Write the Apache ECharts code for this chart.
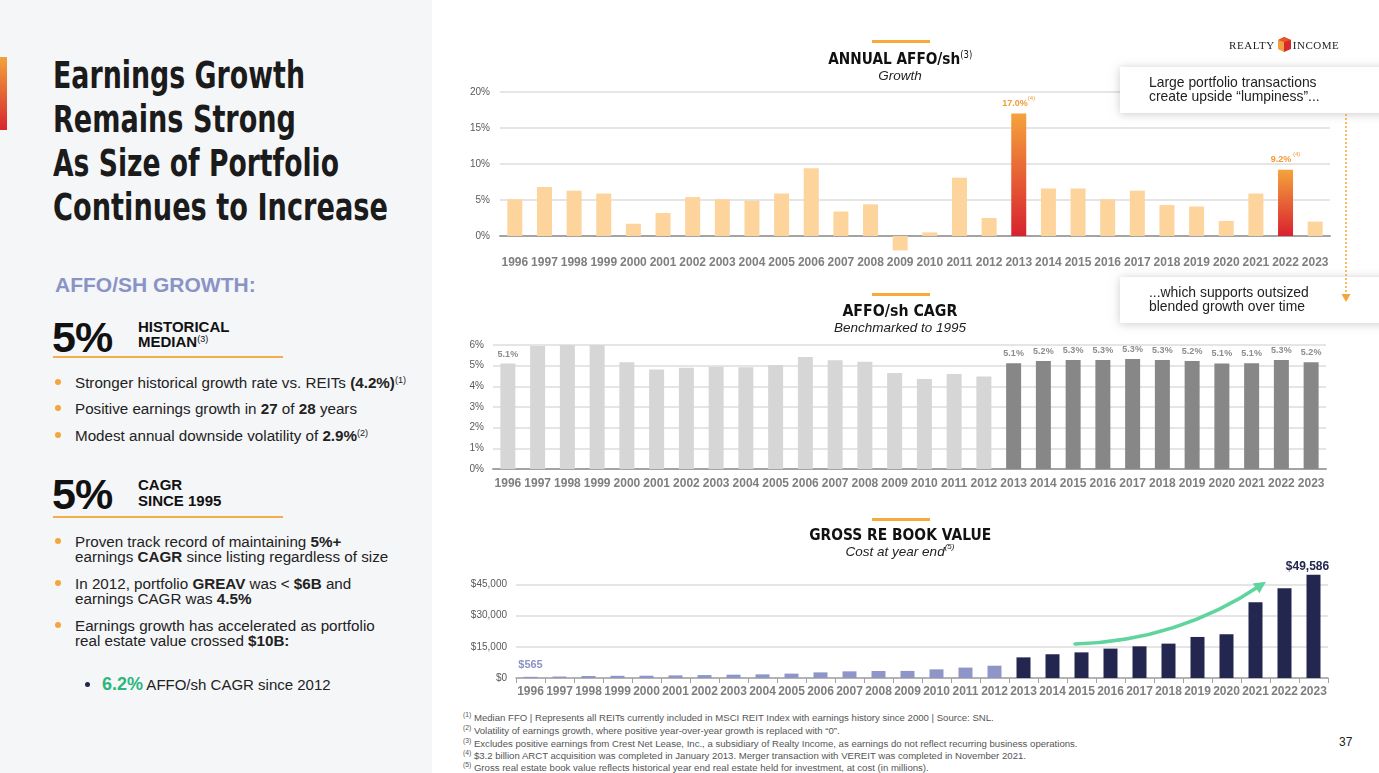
<!DOCTYPE html>
<html><head><meta charset="utf-8">
<script src="https://cdn.jsdelivr.net/npm/echarts@6/dist/echarts.min.js"></script>
<style>
html,body{margin:0;padding:0;}
body{width:1379px;height:773px;position:relative;overflow:hidden;background:#fff;font-family:"Liberation Sans",Arial,sans-serif;color:#222;}
#left{position:absolute;left:0;top:0;width:432px;height:773px;background:#f5f6f8;}
#chart{position:absolute;left:0;top:0;width:1379px;height:773px;z-index:1;}
.abs{position:absolute;white-space:nowrap;}
.accent{position:absolute;left:0;top:57px;width:7px;height:73px;background:linear-gradient(#f2a23a,#d7262f);}
.ttl{font-family:"DejaVu Sans",sans-serif;font-weight:bold;font-size:37px;line-height:44px;height:44px;color:#1b1b1b;left:53px;transform-origin:0 50%;}
.big{font-weight:900;font-size:43px;line-height:44px;height:44px;color:#111;left:52px;letter-spacing:-1px;}
.cap{font-weight:bold;font-size:15px;line-height:16px;height:16px;color:#111;left:138px;}
.rule{position:absolute;left:53px;width:230px;height:2px;background:#f6ad45;}
.dot{position:absolute;left:55px;width:6px;height:6px;border-radius:50%;background:#f5a53b;}
.bt{font-size:15.2px;line-height:15px;height:15px;left:75px;color:#222;}
sup{font-size:0.6em;vertical-align:0.6em;line-height:0;font-weight:normal;}
.fn{left:463px;font-size:9.6px;line-height:12px;height:12px;color:#555;}
.fn sup{font-size:0.7em;}
.ct{position:absolute;left:700px;width:400px;text-align:center;z-index:3;font-family:"DejaVu Sans",sans-serif;font-weight:bold;font-size:16px;line-height:18px;height:18px;color:#111;white-space:nowrap;}
.ct > span{display:inline-block;transform-origin:50% 50%;}
.ct sup{font-size:10px;vertical-align:6px;}
.logo{position:absolute;top:37px;left:1229px;height:14px;font-family:"Liberation Serif","DejaVu Serif",serif;font-size:11px;line-height:14px;letter-spacing:0.55px;color:#222;z-index:2;white-space:nowrap;}
</style></head>
<body>
<div id="left">
  <div class="accent"></div>
  <div class="abs ttl" style="top:54px" data-w="252">Earnings Growth</div>
  <div class="abs ttl" style="top:98px" data-w="243">Remains Strong</div>
  <div class="abs ttl" style="top:142px" data-w="286">As Size of Portfolio</div>
  <div class="abs ttl" style="top:186px" data-w="335">Continues to Increase</div>

  <div class="abs" style="left:55px;top:273px;font-size:21px;line-height:24px;font-weight:bold;color:#8a93c5;">AFFO/SH GROWTH:</div>

  <div class="abs big" style="top:315px">5%</div>
  <div class="abs cap" style="top:319px">HISTORICAL</div>
  <div class="abs cap" style="top:334px">MEDIAN<sup>(3)</sup></div>
  <div class="rule" style="top:356px"></div>

  <div class="dot" style="top:379px"></div>
  <div class="abs bt" style="top:375px">Stronger historical growth rate vs. REITs <b>(4.2%)</b><sup>(1)</sup></div>
  <div class="dot" style="top:405px"></div>
  <div class="abs bt" style="top:401px">Positive earnings growth in <b>27</b> of <b>28</b> years</div>
  <div class="dot" style="top:432px"></div>
  <div class="abs bt" style="top:428px">Modest annual downside volatility of <b>2.9%</b><sup>(2)</sup></div>

  <div class="abs big" style="top:472px">5%</div>
  <div class="abs cap" style="top:477px">CAGR</div>
  <div class="abs cap" style="top:493px">SINCE 1995</div>
  <div class="rule" style="top:516px"></div>

  <div class="dot" style="top:538px"></div>
  <div class="abs bt" style="top:534px">Proven track record of maintaining <b>5%+</b></div>
  <div class="abs bt" style="top:549px">earnings <b>CAGR</b> since listing regardless of size</div>
  <div class="dot" style="top:580px"></div>
  <div class="abs bt" style="top:576px">In 2012, portfolio <b>GREAV</b> was &lt; <b>$6B</b> and</div>
  <div class="abs bt" style="top:591px">earnings CAGR was <b>4.5%</b></div>
  <div class="dot" style="top:622px"></div>
  <div class="abs bt" style="top:618px">Earnings growth has accelerated as portfolio</div>
  <div class="abs bt" style="top:633px">real estate value crossed <b>$10B:</b></div>

  <div style="position:absolute;left:85px;top:682px;width:5px;height:5px;border-radius:50%;background:#23264e;"></div>
  <div class="abs" style="left:102px;top:675px;line-height:18px;font-size:15px;"><b style="color:#2cb67d;font-size:18px;">6.2%</b> AFFO/sh CAGR since 2012</div>
</div>

<div class="abs fn" style="top:712px"><sup>(1)</sup> Median FFO | Represents all REITs currently included in MSCI REIT Index with earnings history since 2000 | Source: SNL.</div>
<div class="abs fn" style="top:725px"><sup>(2)</sup> Volatility of earnings growth, where positive year-over-year growth is replaced with “0”.</div>
<div class="abs fn" style="top:738px"><sup>(3)</sup> Excludes positive earnings from Crest Net Lease, Inc., a subsidiary of Realty Income, as earnings do not reflect recurring business operations.</div>
<div class="abs fn" style="top:750px"><sup>(4)</sup> $3.2 billion ARCT acquisition was completed in January 2013. Merger transaction with VEREIT was completed in November 2021.</div>
<div class="abs fn" style="top:762px"><sup>(5)</sup> Gross real estate book value reflects historical year end real estate held for investment, at cost (in millions).</div>
<div class="abs" style="left:1339px;top:735px;font-size:12px;line-height:14px;color:#222;">37</div>

<div id="chart"></div>

<div class="ct" style="top:50px" data-w="132"><span><span class="m">ANNUAL AFFO/sh</span><sup>(3)</sup></span></div>
<div class="ct" style="top:302px" data-w="115"><span><span class="m">AFFO/sh CAGR</span></span></div>
<div class="ct" style="top:526px" data-w="182"><span><span class="m">GROSS RE BOOK VALUE</span></span></div>

<div class="logo">REALTY<svg width="15" height="15" viewBox="0 0 15 15" style="vertical-align:-3px;margin:0 1px 0 2px"><polygon points="1,3 7,0 7,15 1,12" fill="#f0a040"/><polygon points="7,0 14,3 14,12 7,15" fill="#d42a2a"/><polygon points="7,0 14,3 7,5 1,3" fill="#e8552a"/></svg>INCOME</div>

<script>
// fit title lines to the reference widths
document.querySelectorAll('.ttl').forEach(el=>{
  const w = el.getBoundingClientRect().width;
  el.style.transform = 'scaleX(' + (parseFloat(el.dataset.w)/w) + ')';
});
document.querySelectorAll('.ct').forEach(el=>{
  const wrap = el.firstElementChild, m = wrap.querySelector('.m');
  const w = m.getBoundingClientRect().width;
  wrap.style.transform = 'scaleX(' + (parseFloat(el.dataset.w)/w) + ')';
});

// ---------------- DATA ----------------
const years = ['1996','1997','1998','1999','2000','2001','2002','2003','2004','2005','2006','2007','2008','2009','2010','2011','2012','2013','2014','2015','2016','2017','2018','2019','2020','2021','2022','2023'];
const affoGrowth = [5.1,6.8,6.3,5.9,1.7,3.2,5.4,5.1,4.9,5.9,9.4,3.4,4.4,-2.0,0.5,8.1,2.5,17.0,6.6,6.6,5.1,6.3,4.3,4.1,2.1,5.9,9.2,2.0];
const growthHighlightYears = ['2013','2022'];
const affoCagr = [5.1,5.95,6.0,6.0,5.16,4.82,4.9,4.95,4.92,5.03,5.42,5.26,5.19,4.64,4.35,4.6,4.47,5.12,5.22,5.27,5.27,5.32,5.27,5.22,5.11,5.12,5.27,5.16];
const cagrLabelYears = ['1996','2013','2014','2015','2016','2017','2018','2019','2020','2021','2022','2023'];
const bookValue = [565,700,950,1050,1100,1250,1400,1600,1750,2100,2700,3200,3350,3400,4150,5000,5900,9900,11400,12300,14100,15200,16500,19700,21000,36350,43100,49586];
const bookLabelYears = ['1996','2023'];
const splitYear = '2013';
const growthTicks = {min:-5, max:20, interval:5};
const cagrTicks = {min:0, max:6, interval:1};
const bookTicks = {min:0, max:60000, interval:15000};
const callout1 = ['Large portfolio transactions','create upside “lumpiness”...'];
const callout2 = ['...which supports outsized','blended growth over time'];

// ---------------- CHART ----------------
const chart = echarts.init(document.getElementById('chart'));
const FONT = '"Liberation Sans", Arial, sans-serif';
const xLab = {color:'#7f7f7f', fontWeight:'bold', fontSize:12, fontFamily:FONT, interval:0};
const yLab = {color:'#595959', fontSize:10, fontFamily:FONT};
const grid = '#dcdcdc';
const splitIdx = years.indexOf(splitYear);

const hiGrad = new echarts.graphic.LinearGradient(0,0,0,1,[{offset:0,color:'#f5a33b'},{offset:1,color:'#d8212f'}]);

const growthData = affoGrowth.map((v,i)=> growthHighlightYears.includes(years[i]) ? {
  value:v, itemStyle:{color:hiGrad},
  label:{show:true, position:'top', distance:6,
    formatter: p => '{a|'+p.value.toFixed(1)+'%}{s|'+(years[i]==='2022'?' ':'')+'(4)}',
    rich:{a:{fontSize:9,fontWeight:'bold',color:'#f39a33',fontFamily:FONT,lineHeight:12,verticalAlign:'bottom'},
          s:{fontSize:6,color:'#f39a33',fontFamily:FONT,lineHeight:12,verticalAlign:'top'}}}
} : v);

const cagrData = affoCagr.map((v,i)=> ({
  value:v,
  itemStyle:{color: i>=splitIdx ? '#878787' : '#d6d6d6'},
  label:{show: cagrLabelYears.includes(years[i]), position:'top', distance:5,
    formatter: p => p.value.toFixed(1)+'%', fontSize:9, fontWeight:'bold', color:'#8c8c8c', fontFamily:FONT}
}));

const bookData = bookValue.map((v,i)=> ({
  value:v,
  itemStyle:{color: i>=splitIdx ? '#23264e' : '#8e96c8'},
  label:{show: bookLabelYears.includes(years[i]), position:'top', distance: i>=splitIdx?2:6,
    offset: i>=splitIdx?[-6,0]:[0,0],
    formatter: p => '$'+p.value.toLocaleString('en-US'),
    fontSize: i>=splitIdx?12:11, fontWeight:'bold', color: i>=splitIdx?'#23264e':'#8a93c5', fontFamily:FONT}
}));

function subTitle(x,y,sub,subSup){
  return {type:'text', x:x, y:y, z:50, style:{
      text:'{t|'+sub+'}'+(subSup?'{s|'+subSup+'}':''), align:'center', verticalAlign:'middle',
      rich:{t:{fontSize:13.5,fontStyle:'italic',fontFamily:FONT,fill:'#222',lineHeight:16,verticalAlign:'bottom'},
            s:{fontSize:8,fontStyle:'italic',fontFamily:FONT,fill:'#222',lineHeight:16,verticalAlign:'top'}}}};
}
function callout(y, lines){
  return [{type:'rect', z:60, shape:{x:1120,y:y,width:275,height:46},
           style:{fill:'#fff', shadowBlur:9, shadowColor:'rgba(0,0,0,0.2)', shadowOffsetY:1}},
    ...lines.map((t,k)=>({type:'text', z:61, x:1149, y:y+16+k*14,
           style:{text:t, fontSize:13.9, fontFamily:FONT, fill:'#222', verticalAlign:'middle'}}))];
}

// green arrow geometry
const a0=[1075,644], ac=[1178,641], a1=[1261,585];
const ux=a1[0]-ac[0], uy=a1[1]-ac[1], ul=Math.hypot(ux,uy), u=[ux/ul,uy/ul], pp=[-u[1],u[0]];
const tip=[a1[0]+u[0]*6,a1[1]+u[1]*6], bc=[a1[0]-u[0]*6,a1[1]-u[1]*6];

const option = {
  animation:false,
  grid:[
    {left:500, right:49, top:92, bottom:501},
    {left:493, right:53, top:345, bottom:304},
    {left:516, right:51, top:553, bottom:95}
  ],
  xAxis:[
    {type:'category', data:years, gridIndex:0, axisLine:{onZero:true, lineStyle:{color:'#a3a3a3', width:2}}, axisTick:{show:false}, axisLabel:{...xLab, margin:-15}},
    {type:'category', data:years, gridIndex:1, axisLine:{lineStyle:{color:'#a3a3a3', width:2}}, axisTick:{show:false}, axisLabel:{...xLab, margin:9}},
    {type:'category', data:years, gridIndex:2, axisLine:{lineStyle:{color:'#a3a3a3', width:1.5}}, axisTick:{show:true, length:5, lineStyle:{color:'#a3a3a3'}}, axisLabel:{...xLab, margin:8}}
  ],
  yAxis:[
    {type:'value', gridIndex:0, ...growthTicks, axisLine:{show:false}, axisTick:{show:false},
     splitLine:{lineStyle:{color:['rgba(0,0,0,0)',grid,grid,grid,grid,grid], width:1.5}},
     axisLabel:{...yLab, margin:10, formatter:v=> v<0?'':v+'%'}},
    {type:'value', gridIndex:1, ...cagrTicks, axisLine:{show:false}, axisTick:{show:false},
     splitLine:{lineStyle:{color:grid, width:1.5}}, axisLabel:{...yLab, margin:9, formatter:v=>v+'%'}},
    {type:'value', gridIndex:2, ...bookTicks, axisLine:{show:false}, axisTick:{show:false},
     splitLine:{lineStyle:{color:[grid,grid,grid,grid,'rgba(0,0,0,0)'], width:1.5}},
     axisLabel:{...yLab, margin:9, formatter:v=> v>=60000?'':'$'+v.toLocaleString('en-US')}}
  ],
  series:[
    {type:'bar', xAxisIndex:0, yAxisIndex:0, data:growthData, barWidth:15, itemStyle:{color:'#fcd49c'}},
    {type:'bar', xAxisIndex:1, yAxisIndex:1, data:cagrData, barWidth:15},
    {type:'bar', xAxisIndex:2, yAxisIndex:2, data:bookData, barWidth:14}
  ],
  graphic:[
    {type:'rect', shape:{x:872,y:40,width:58,height:3}, style:{fill:'#f7a93c'}},
    {type:'rect', shape:{x:872,y:293,width:58,height:3}, style:{fill:'#f7a93c'}},
    {type:'rect', shape:{x:872,y:518,width:58,height:3}, style:{fill:'#f7a93c'}},
    subTitle(900,75,'Growth',''),
    subTitle(900,327,'Benchmarked to 1995',''),
    subTitle(900,551,'Cost at year end','(5)'),
    ...callout(67, callout1),
    ...callout(277, callout2),
    {type:'line', z:70, shape:{x1:1346,y1:114,x2:1346,y2:294}, style:{stroke:'#f5a33b', lineWidth:1.5, lineDash:[2,2]}},
    {type:'polygon', z:70, shape:{points:[[1341.5,294],[1350.5,294],[1346,302]]}, style:{fill:'#f5a33b'}},
    {type:'bezierCurve', z:50, shape:{x1:a0[0],y1:a0[1],cpx1:ac[0],cpy1:ac[1],x2:a1[0],y2:a1[1]}, style:{stroke:'#5fd49d', lineWidth:3.5, fill:null, lineCap:'round'}},
    {type:'polygon', z:50, shape:{points:[tip,[bc[0]+pp[0]*6,bc[1]+pp[1]*6],[bc[0]-pp[0]*6,bc[1]-pp[1]*6]]}, style:{fill:'#5fd49d'}}
  ]
};
chart.setOption(option);
</script>
</body></html>
